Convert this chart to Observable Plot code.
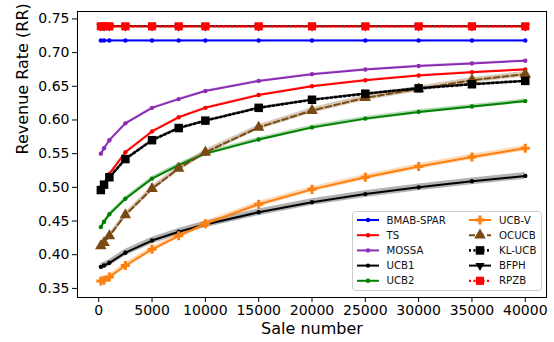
<!DOCTYPE html>
<html>
<head>
<meta charset="utf-8">
<script src="https://cdn.jsdelivr.net/npm/d3@7"></script>
<script src="https://cdn.jsdelivr.net/npm/@observablehq/plot@0.6"></script>
<style>
  html, body { margin: 0; padding: 0; background: #fff; }
  #chart { width: 554px; height: 342px; }
</style>
</head>
<body>
<div id="chart"></div>
<script>
// ---- data ----
const saleNumbers = [200, 500, 1000, 2500, 5000, 7500, 10000, 15000, 20000, 25000, 30000, 35000, 40000];
const seriesNames = ["BMAB-SPAR", "TS", "MOSSA", "UCB1", "UCB2", "UCB-V", "OCUCB", "KL-UCB", "BFPH", "RPZB"];
const bmabSpar = [0.718, 0.718, 0.718, 0.718, 0.718, 0.718, 0.718, 0.718, 0.718, 0.718, 0.718, 0.718, 0.718];
const ts       = [0.498, 0.506, 0.520, 0.552, 0.583, 0.604, 0.618, 0.637, 0.650, 0.659, 0.666, 0.671, 0.675];
const mossa    = [0.550, 0.558, 0.570, 0.595, 0.618, 0.631, 0.643, 0.658, 0.668, 0.675, 0.680, 0.684, 0.688];
const ucb1     = [0.382, 0.384, 0.388, 0.403, 0.421, 0.434, 0.445, 0.463, 0.478, 0.490, 0.500, 0.509, 0.517];
const ucb2     = [0.441, 0.449, 0.460, 0.483, 0.513, 0.533, 0.550, 0.571, 0.589, 0.602, 0.612, 0.620, 0.628];
const ucbV     = [0.361, 0.362, 0.367, 0.384, 0.408, 0.428, 0.446, 0.475, 0.497, 0.515, 0.531, 0.545, 0.558];
const ocucb    = [0.413, 0.418, 0.428, 0.459, 0.498, 0.528, 0.552, 0.589, 0.614, 0.633, 0.646, 0.659, 0.668];
const klUcb    = [0.496, 0.504, 0.515, 0.542, 0.570, 0.588, 0.599, 0.618, 0.630, 0.639, 0.647, 0.653, 0.658];
const bfph     = [0.739, 0.739, 0.739, 0.739, 0.739, 0.739, 0.739, 0.739, 0.739, 0.739, 0.739, 0.739, 0.739];
const rpzb     = [0.739, 0.739, 0.739, 0.739, 0.739, 0.739, 0.739, 0.739, 0.739, 0.739, 0.739, 0.739, 0.739];
// spread (half-width of shaded band) per series
const bandHalfWidth = [0.001, 0.0015, 0.0015, 0.005, 0.003, 0.004, 0.004, 0.0015, 0.001, 0.001];
const xTicks = [0, 5000, 10000, 15000, 20000, 25000, 30000, 35000, 40000];
const yTicks = [0.35, 0.40, 0.45, 0.50, 0.55, 0.60, 0.65, 0.70, 0.75];

const seriesValues = [bmabSpar, ts, mossa, ucb1, ucb2, ucbV, ocucb, klUcb, bfph, rpzb];

// ---- styles ----
const styles = {
  "BMAB-SPAR": {color: "#0000ff", symbol: "circle", r: 2.2, dash: null, width: 2},
  "TS":        {color: "#ff0000", symbol: "circle", r: 2.2, dash: null, width: 2},
  "MOSSA":     {color: "#8a2db3", symbol: "circle", r: 2.2, dash: null, width: 2},
  "UCB1":      {color: "#000000", symbol: "circle", r: 2.2, dash: null, width: 2},
  "UCB2":      {color: "#008000", symbol: "circle", r: 2.2, dash: null, width: 2},
  "UCB-V":     {color: "#ff7f0e", symbol: "cross", r: 3.8, dash: null, width: 2},
  "OCUCB":     {color: "#7b4a12", symbol: "triangle", r: 4.3, dash: "6,3", width: 2},
  "KL-UCB":    {color: "#000000", symbol: "square", r: 4.8, dash: "2,2.5", width: 2.6},
  "BFPH":      {color: "#000000", symbol: "triangle", r: 3.4, rotate: 180, dash: null, width: 2},
  "RPZB":      {color: "#ff0000", symbol: "square", r: 4.6, dash: "2,2.5", width: 2.2}
};

const rows = [];
seriesNames.forEach((name, i) => {
  saleNumbers.forEach((x, j) => {
    const y = seriesValues[i][j];
    rows.push({name, x, y, lo: y - bandHalfWidth[i], hi: y + bandHalfWidth[i]});
  });
});

const font = "DejaVu Sans, sans-serif";
const marks = [];
seriesNames.forEach(name => {
  const s = styles[name];
  const d = rows.filter(r => r.name === name);
  marks.push(Plot.areaY(d, {x: "x", y1: "lo", y2: "hi", fill: s.color, fillOpacity: 0.3}));
});
seriesNames.forEach(name => {
  const s = styles[name];
  const d = rows.filter(r => r.name === name);
  marks.push(Plot.line(d, {x: "x", y: "y", stroke: s.color, strokeWidth: s.width, strokeDasharray: s.dash || undefined}));
  marks.push(Plot.dot(d, {x: "x", y: "y", symbol: () => s.symbol, r: s.r, fill: s.color, stroke: "none", rotate: s.rotate || 0}));
});

// legend as a render function
function legendMark() {
  const g = d3.create("svg:g").attr("text-anchor", "start");
  const bx = 352.5, by = 211.5, bw = 189, bh = 79;
  g.append("rect").attr("x", bx).attr("y", by).attr("width", bw).attr("height", bh)
    .attr("rx", 3).attr("fill", "white").attr("fill-opacity", 0.85)
    .attr("stroke", "#cccccc").attr("stroke-width", 1);
  seriesNames.forEach((name, i) => {
    const s = styles[name];
    const col = i < 5 ? 0 : 1;
    const row = i % 5;
    const sx = col === 0 ? 357 : 469;
    const tx = col === 0 ? 386.5 : 499;
    const cy = 220 + row * 15.2;
    g.append("line").attr("x1", sx).attr("x2", sx + 22).attr("y1", cy).attr("y2", cy)
      .attr("stroke", s.color).attr("stroke-width", s.width)
      .attr("stroke-dasharray", s.dash || null);
    const sym = {circle: d3.symbolCircle, cross: d3.symbolCross, triangle: d3.symbolTriangle, square: d3.symbolSquare}[s.symbol];
    g.append("path").attr("d", d3.symbol(sym, Math.PI * s.r * s.r)())
      .attr("transform", `translate(${sx + 11},${cy}) rotate(${s.rotate || 0})`)
      .attr("fill", s.color);
    g.append("text").attr("x", tx).attr("y", cy).attr("dy", "0.35em")
      .attr("text-anchor", "start")
      .attr("font-size", 10.2).attr("font-family", font).attr("fill", "#111")
      .text(name);
  });
  return g.node();
}

const chart = Plot.plot({
  width: 554,
  height: 342,
  marginLeft: 77,
  marginRight: 8,
  marginTop: 11,
  marginBottom: 45,
  style: {fontFamily: font, fontSize: "14px", background: "white", color: "black"},
  x: {domain: [-1990, 41990]},
  y: {domain: [0.3365, 0.761]},
  marks: [
    ...marks,
    Plot.frame({stroke: "black", strokeWidth: 1}),
    Plot.axisX({ticks: xTicks, tickFormat: d3.format("d"), label: null, tickSize: 5, tickPadding: 3, fontSize: 14}),
    Plot.axisY({ticks: yTicks, tickFormat: d3.format(".2f"), label: null, tickSize: 5, tickPadding: 3, fontSize: 14}),
    Plot.text(["Sale number"], {frameAnchor: "bottom", dy: 31, fontSize: 16, lineAnchor: "middle"}),
    Plot.text(["Revenue Rate (RR)"], {frameAnchor: "left", dx: -55, rotate: -90, fontSize: 16, lineAnchor: "middle"}),
    legendMark
  ]
});
document.getElementById("chart").appendChild(chart);
</script>
</body>
</html>
